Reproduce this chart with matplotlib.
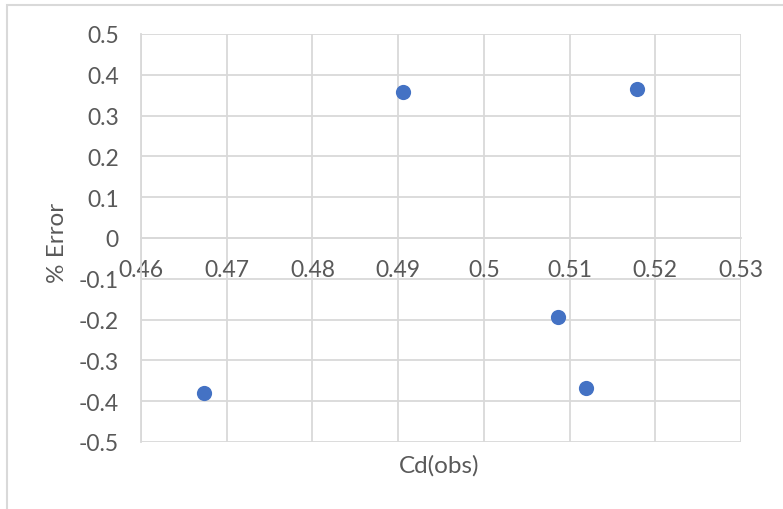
import matplotlib.pyplot as plt
from matplotlib.patches import Rectangle

# data
cd_obs = [0.4674, 0.4906, 0.5179, 0.5087, 0.5119]
pct_error = [-0.380, 0.358, 0.365, -0.194, -0.368]

x_ticks = [0.46, 0.47, 0.48, 0.49, 0.50, 0.51, 0.52, 0.53]
x_tick_labels = ['0.46', '0.47', '0.48', '0.49', '0.5', '0.51', '0.52', '0.53']
y_ticks = [-0.5, -0.4, -0.3, -0.2, -0.1, 0, 0.1, 0.2, 0.3, 0.4, 0.5]
y_tick_labels = ['-0.5', '-0.4', '-0.3', '-0.2', '-0.1', '0', '0.1', '0.2', '0.3', '0.4', '0.5']

plt.rcParams['font.family'] = ['Lato', 'DejaVu Sans']
text_col = '#595959'
grid_col = '#d9d9d9'

W, H = 783, 510
fig = plt.figure(figsize=(W / 100, H / 100), dpi=100)

# outer chart border
fig.patches.append(Rectangle((7 / W, -0.05), 1.2, (H - 6) / H + 0.05, transform=fig.transFigure,
                             fill=False, edgecolor=grid_col, linewidth=1.5))

ax = fig.add_axes([141 / W, (H - 443) / H, 600 / W, 408 / H])
ax.set_xlim(0.46, 0.53)
ax.set_ylim(-0.5, 0.5)

ax.scatter(cd_obs, pct_error, s=120, color='#4472C4', zorder=3, linewidths=0)

ax.set_xticks(x_ticks)
ax.set_xticklabels(x_tick_labels)
ax.set_yticks(y_ticks)
ax.set_yticklabels(y_tick_labels)
ax.grid(True, color=grid_col, linewidth=1.3)
ax.set_axisbelow(True)

for s in ['top', 'right']:
    ax.spines[s].set_visible(False)
ax.spines['left'].set_color(grid_col)
ax.spines['left'].set_linewidth(1.3)
ax.spines['bottom'].set_position(('data', 0))
ax.spines['bottom'].set_color(grid_col)
ax.spines['bottom'].set_linewidth(1.3)

ax.tick_params(axis='x', length=0, pad=15, labelsize=16.5, colors=text_col)
ax.tick_params(axis='y', length=0, pad=16, labelsize=16.5, colors=text_col)

fig.text(439 / W, 1 - 466 / H, 'Cd(obs)', ha='center', va='center', fontsize=17.5, color=text_col)
fig.text(58 / W, 1 - 243 / H, '% Error', ha='center', va='center', rotation=90, fontsize=17.5, color=text_col)

fig.savefig('out.png', dpi=100)
